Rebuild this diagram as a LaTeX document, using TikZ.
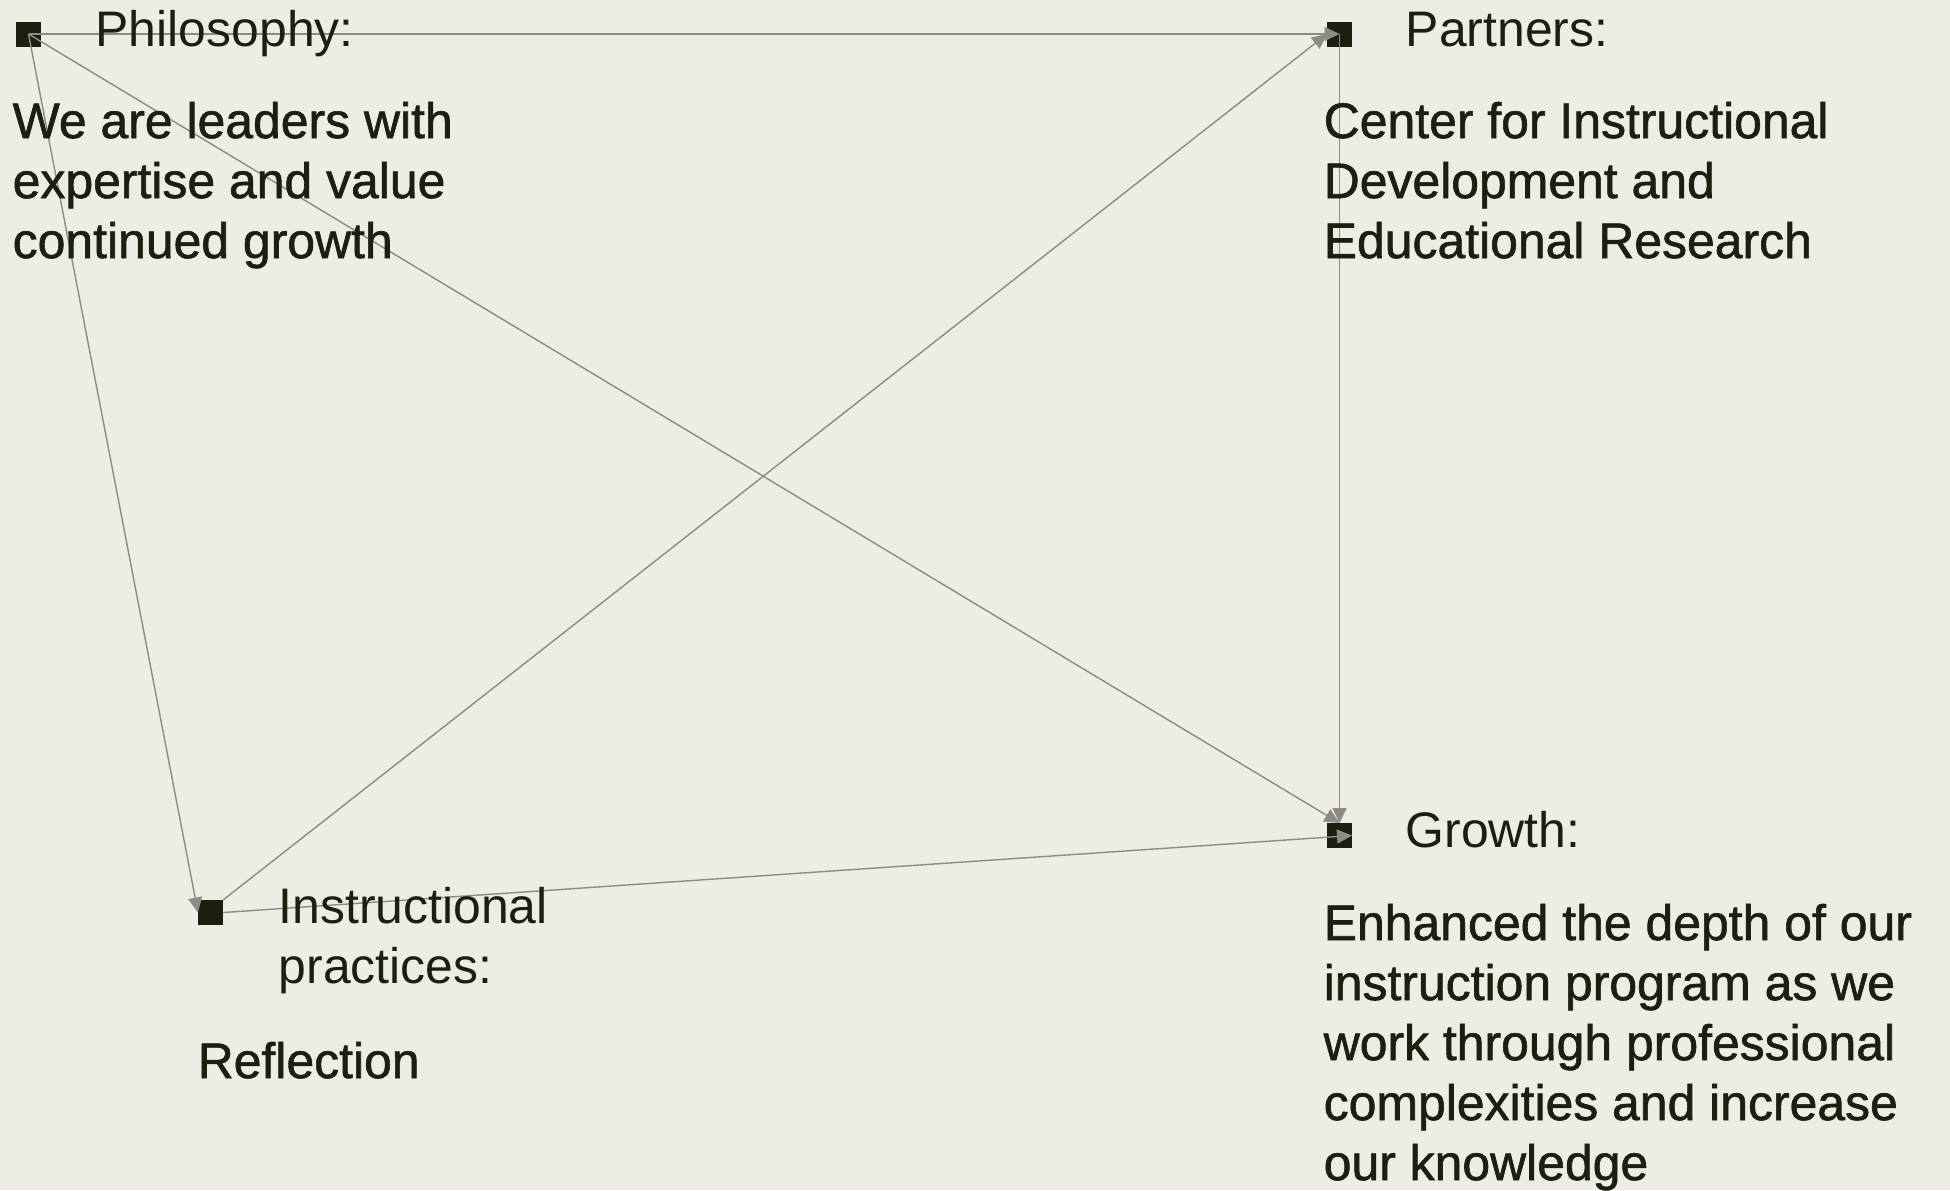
\documentclass[tikz,border=0pt]{standalone}
\usepackage{fontspec}
\setmainfont{Liberation Sans}
\newfontfamily\headfont{Liberation Sans}
\newfontfamily\bodyfont{Liberation Sans}[FakeBold=1.2]
\usetikzlibrary{arrows.meta}

\definecolor{paper}{HTML}{EEECE3}
\definecolor{ink}{HTML}{1D1D10}
\definecolor{wire}{HTML}{8C8C87}

\tikzset{
  dot/.style={fill=ink, minimum size=2.5mm, inner sep=0pt, outer sep=0pt},
  head/.style={anchor=base west, inner sep=0pt, align=left, text=ink,
    font=\headfont\fontsize{14.2}{17.07}\selectfont},
  body/.style={head, font=\bodyfont\fontsize{14.2}{17.07}\selectfont},
  link/.style={wire, line width=0.4pt, -{Triangle[length=1.5mm,width=1.4mm]}},
}

\begin{document}
\begin{tikzpicture}[x=0.1mm, y=-0.1mm]
    % paper
    \fill[paper] (0,0) rectangle (1950,1190);
    \useasboundingbox (0,0) rectangle (1950,1190);
    % squares
    \node[dot] (phil)   at (28.5,34)      {};
    \node[dot] (part)   at (1339.5,34)    {};
    \node[dot] (instr)  at (210.5,912.5)  {};
    \node[dot] (growth) at (1339.5,835.5) {};
    % links
    \draw[link] (phil.center)     -- (part.center);
    \draw[link] (phil.center)     -- (instr.west);
    \draw[link] (phil.center)     -- (growth.north);
    \draw[link] (instr.north east) -- (part.west);
    \draw[link] (part.center)     -- (growth.north);
    \draw[link] (instr.east)      -- (growth.east);
    % labels (base = baseline of the last line)
    \node[head] (philhead)   at (95,46)     {Philosophy:};
    \node[body] (philtext)   at (12,258)    {We are leaders with\\expertise and value\\continued growth};
    \node[head] (parthead)   at (1405,46)   {Partners:};
    \node[body] (parttext)   at (1323,258)  {Center for Instructional\\Development and\\Educational Research};
    \node[head] (instrhead)  at (278,983)   {Instructional\\practices:};
    \node[body] (instrtext)  at (197,1078)  {Reflection};
    \node[head] (growthhead) at (1405,847)  {Growth:};
    \node[body] (growthtext) at (1323,1180) {Enhanced the depth of our\\instruction program as we\\work through professional\\complexities and increase\\our knowledge};
\end{tikzpicture}
\end{document}
